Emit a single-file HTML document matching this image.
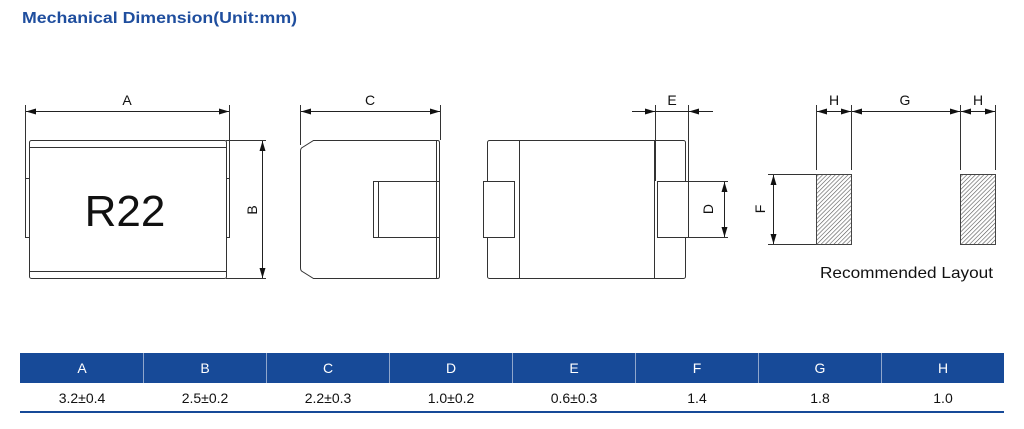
<!DOCTYPE html>
<html><head><meta charset="utf-8"><style>
html,body{margin:0;padding:0;background:#fff;}
svg{display:block;}
text{font-family:"Liberation Sans",sans-serif;}
</style></head><body>
<svg width="1024" height="429" viewBox="0 0 1024 429" xmlns="http://www.w3.org/2000/svg">
<defs>
<pattern id="hatch" width="3" height="3" patternUnits="userSpaceOnUse" patternTransform="rotate(45)">
<rect width="3" height="3" fill="#fff"/><line x1="0" y1="0" x2="0" y2="3" stroke="#555" stroke-width="1.2"/>
</pattern>
<marker id="ar" markerWidth="10" markerHeight="6" refX="10" refY="3" orient="auto" markerUnits="userSpaceOnUse"><path d="M0,0 L10,3 L0,6 Z" fill="#111"/></marker>
</defs>
<text x="22" y="23" font-size="16" font-weight="bold" fill="#1f4e9e" textLength="275" lengthAdjust="spacingAndGlyphs">Mechanical Dimension(Unit:mm)</text>

<g fill="none" stroke="#333" stroke-width="1">
<rect x="29.5" y="140.5" width="197" height="138" rx="2"/>
<line x1="29.5" y1="147.5" x2="226.5" y2="147.5"/>
<line x1="29.5" y1="271.5" x2="226.5" y2="271.5"/>
<rect x="25.5" y="178.5" width="4" height="59"/>
<rect x="226.5" y="178.5" width="3" height="59"/>
<line x1="25.5" y1="105" x2="25.5" y2="178"/>
<line x1="229.5" y1="105" x2="229.5" y2="178"/>
<line x1="226" y1="140.5" x2="266" y2="140.5"/>
<line x1="226" y1="278.5" x2="266" y2="278.5"/>
<path d="M313.5,140.5 L437.5,140.5 Q439.5,140.5 439.5,142.5 L439.5,276.5 Q439.5,278.5 437.5,278.5 L313.5,278.5 L301.5,271 Q300.5,270 300.5,268 L300.5,151 Q300.5,149 301.5,148 Z"/>
<line x1="436.5" y1="140.5" x2="436.5" y2="278.5"/>
<rect x="373.5" y="181.5" width="66" height="56"/>
<line x1="378.5" y1="181.5" x2="378.5" y2="237.5"/>
<line x1="300.5" y1="105" x2="300.5" y2="145"/>
<line x1="440.5" y1="105" x2="440.5" y2="140"/>
<rect x="487.5" y="140.5" width="198" height="138" rx="2"/>
<line x1="519.5" y1="140.5" x2="519.5" y2="278.5"/>
<line x1="654.5" y1="140.5" x2="654.5" y2="278.5"/>
<rect x="483.5" y="181.5" width="31" height="56" fill="#fff"/>
<rect x="657.5" y="181.5" width="31" height="56" fill="#fff"/>
<line x1="655.5" y1="105" x2="655.5" y2="181"/>
<line x1="688.5" y1="105" x2="688.5" y2="181"/>
<line x1="688" y1="181.5" x2="728" y2="181.5"/>
<line x1="688" y1="237.5" x2="728" y2="237.5"/>
<line x1="768" y1="174.5" x2="816" y2="174.5"/>
<line x1="768" y1="244.5" x2="816" y2="244.5"/>
<line x1="816.5" y1="105" x2="816.5" y2="170"/>
<line x1="851.5" y1="105" x2="851.5" y2="170"/>
<line x1="960.5" y1="105" x2="960.5" y2="170"/>
<line x1="995.5" y1="105" x2="995.5" y2="170"/>
</g>
<rect x="816.5" y="174.5" width="35" height="70" fill="url(#hatch)" stroke="#444"/>
<rect x="960.5" y="174.5" width="35" height="70" fill="url(#hatch)" stroke="#444"/>

<g stroke="#222" stroke-width="1" fill="none">
<line x1="127" y1="111.5" x2="26" y2="111.5" marker-end="url(#ar)"/>
<line x1="127" y1="111.5" x2="229" y2="111.5" marker-end="url(#ar)"/>
<line x1="262.5" y1="210" x2="262.5" y2="141" marker-end="url(#ar)"/>
<line x1="262.5" y1="210" x2="262.5" y2="278" marker-end="url(#ar)"/>
<line x1="370" y1="111.5" x2="301" y2="111.5" marker-end="url(#ar)"/>
<line x1="370" y1="111.5" x2="440" y2="111.5" marker-end="url(#ar)"/>
<line x1="632" y1="111.5" x2="655" y2="111.5" marker-end="url(#ar)"/>
<line x1="713" y1="111.5" x2="689" y2="111.5" marker-end="url(#ar)"/>
<line x1="655" y1="111.5" x2="689" y2="111.5"/>
<line x1="724.5" y1="209" x2="724.5" y2="182" marker-end="url(#ar)"/>
<line x1="724.5" y1="209" x2="724.5" y2="237" marker-end="url(#ar)"/>
<line x1="773.5" y1="209" x2="773.5" y2="175" marker-end="url(#ar)"/>
<line x1="773.5" y1="209" x2="773.5" y2="244" marker-end="url(#ar)"/>
<line x1="834" y1="111.5" x2="817" y2="111.5" marker-end="url(#ar)"/>
<line x1="834" y1="111.5" x2="851" y2="111.5" marker-end="url(#ar)"/>
<line x1="906" y1="111.5" x2="852" y2="111.5" marker-end="url(#ar)"/>
<line x1="906" y1="111.5" x2="960" y2="111.5" marker-end="url(#ar)"/>
<line x1="978" y1="111.5" x2="961" y2="111.5" marker-end="url(#ar)"/>
<line x1="978" y1="111.5" x2="995" y2="111.5" marker-end="url(#ar)"/>
</g>

<g font-size="14" fill="#111" text-anchor="middle">
<text x="127" y="105">A</text>
<text x="370" y="105">C</text>
<text x="672" y="105">E</text>
<text x="834" y="105">H</text>
<text x="905" y="105">G</text>
<text x="978" y="105">H</text>
<text x="0" y="0" transform="translate(257,210) rotate(-90)">B</text>
<text x="0" y="0" transform="translate(713,209) rotate(-90)">D</text>
<text x="0" y="0" transform="translate(765,209) rotate(-90)">F</text>
</g>
<text x="125" y="226" font-size="44" text-anchor="middle" fill="#111">R22</text>
<text x="820" y="278" font-size="16" fill="#111" textLength="173" lengthAdjust="spacingAndGlyphs">Recommended Layout</text>

<rect x="20" y="353" width="984" height="30" fill="#174a98"/>
<g stroke="#8fa6cc" stroke-width="1">
<line x1="143.5" y1="353" x2="143.5" y2="383"/><line x1="266.5" y1="353" x2="266.5" y2="383"/>
<line x1="389.5" y1="353" x2="389.5" y2="383"/><line x1="512.5" y1="353" x2="512.5" y2="383"/>
<line x1="635.5" y1="353" x2="635.5" y2="383"/><line x1="758.5" y1="353" x2="758.5" y2="383"/>
<line x1="881.5" y1="353" x2="881.5" y2="383"/>
</g>
<rect x="20" y="411" width="984" height="2" fill="#174a98"/>
<g font-size="14" fill="#fff" text-anchor="middle">
<text x="82" y="373">A</text><text x="205" y="373">B</text><text x="328" y="373">C</text><text x="451" y="373">D</text>
<text x="574" y="373">E</text><text x="697" y="373">F</text><text x="820" y="373">G</text><text x="943" y="373">H</text>
</g>
<g font-size="14" fill="#111" text-anchor="middle">
<text x="82" y="403">3.2±0.4</text><text x="205" y="403">2.5±0.2</text><text x="328" y="403">2.2±0.3</text><text x="451" y="403">1.0±0.2</text>
<text x="574" y="403">0.6±0.3</text><text x="697" y="403">1.4</text><text x="820" y="403">1.8</text><text x="943" y="403">1.0</text>
</g>
</svg>
</body></html>
